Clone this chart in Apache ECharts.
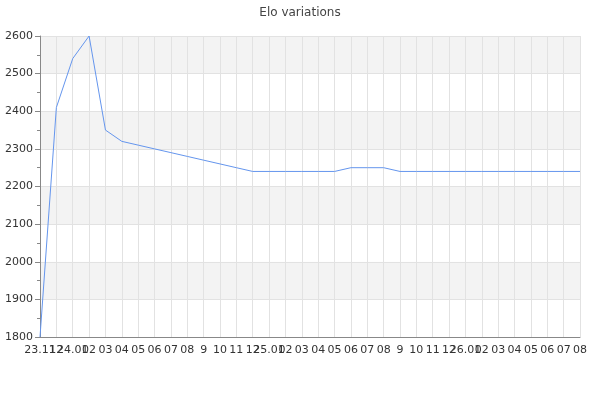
<!DOCTYPE html>
<html>
<head>
    <meta charset="UTF-8">
    <title>Elo variations</title>
    <script src="https://cdn.jsdelivr.net/npm/echarts@6/dist/echarts.min.js"></script>
    <style>
        html, body { margin: 0; padding: 0; background: #fff; }
        #chart { width: 600px; height: 400px; }
    </style>
</head>
<body>
<div id="chart"></div>
<script>
    // month labels, as printed under the axis
    var months = ['23.11', '12', '24.01', '02', '03', '04', '05', '06', '07', '08', '9', '10', '11', '12',
        '25.01', '02', '03', '04', '05', '06', '07', '08', '9', '10', '11', '12',
        '26.01', '02', '03', '04', '05', '06', '07', '08'];

    // elo at each month
    var elo = [1800, 2410, 2540, 2600, 2350, 2320, 2310, 2300, 2290, 2280, 2270, 2260, 2250, 2240,
        2240, 2240, 2240, 2240, 2240, 2250, 2250, 2250, 2240, 2240, 2240, 2240,
        2240, 2240, 2240, 2240, 2240, 2240, 2240, 2240];

    var chart = echarts.init(document.getElementById('chart'), null, {renderer: 'canvas'});

    chart.setOption({
        animation: false,
        textStyle: { fontFamily: 'DejaVu Sans' },
        title: {
            text: 'Elo variations',
            left: 'center',
            top: 2,
            textStyle: { fontSize: 12, fontWeight: 'normal', color: '#444', fontFamily: 'DejaVu Sans' }
        },
        grid: { left: 40, right: 20, top: 36, bottom: 63, containLabel: false, outerBoundsMode: 'none' },
        xAxis: {
            type: 'category',
            data: months,
            boundaryGap: false,
            axisLine: { lineStyle: { color: '#888' } },
            axisTick: { show: false },
            axisLabel: { interval: 0, color: '#333', fontSize: 11, margin: 8 },
            splitLine: { show: true, interval: 0, lineStyle: { color: '#e2e2e2' } }
        },
        yAxis: {
            type: 'value',
            min: 1800,
            max: 2600,
            interval: 100,
            axisLine: { show: true, lineStyle: { color: '#888' } },
            axisTick: { show: true, length: 5, lineStyle: { color: '#888' } },
            minorTick: { show: true, splitNumber: 2, length: 3, lineStyle: { color: '#888' } },
            axisLabel: { color: '#333', fontSize: 11, margin: 7, formatter: function (v) { return String(v); } },
            splitLine: { lineStyle: { color: '#e2e2e2' } },
            splitArea: { show: true, areaStyle: { color: ['#ffffff', '#f3f3f3'] } }
        },
        series: [{
            type: 'line',
            data: elo,
            symbol: 'none',
            lineStyle: { color: '#6495ed', width: 1 },
            itemStyle: { color: '#6495ed' }
        }]
    });
</script>
</body>
</html>
